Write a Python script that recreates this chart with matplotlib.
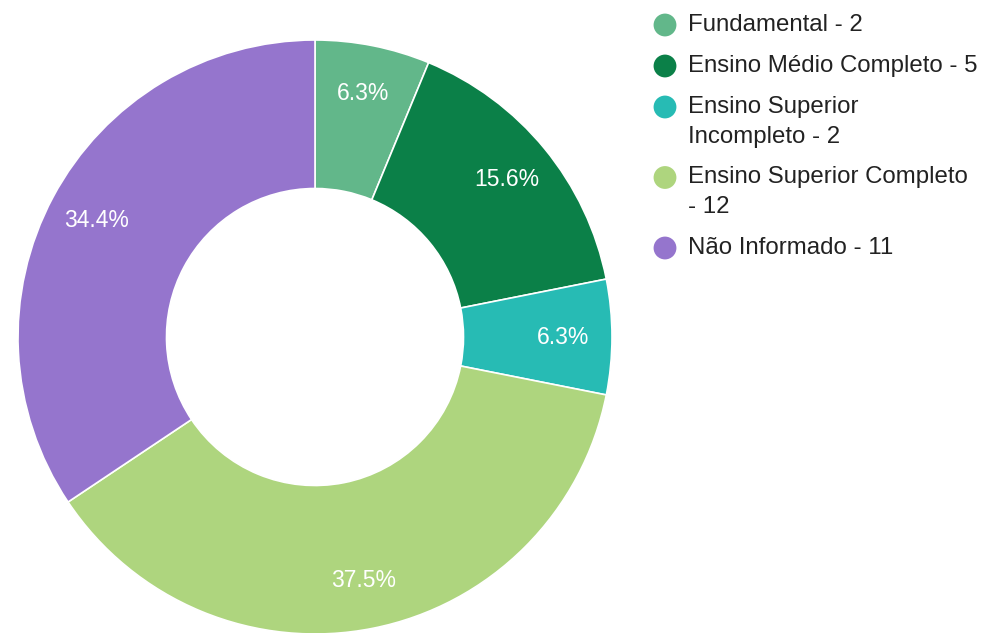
import matplotlib
matplotlib.use("Agg")
import matplotlib.pyplot as plt
from decimal import Decimal, ROUND_HALF_UP

categories = ["Fundamental", "Ensino Médio Completo", "Ensino Superior Incompleto",
              "Ensino Superior Completo", "Não Informado"]
counts = [2, 5, 2, 12, 11]
colors = ["#62b78a", "#0b8048", "#27bbb4", "#aed57e", "#9575cd"]

plt.rcParams['font.family'] = ['Liberation Sans', 'DejaVu Sans']

W, H = 985, 633
fig = plt.figure(figsize=(W / 100, H / 100), dpi=100)
fig.patch.set_facecolor("white")


def fmt_pct(p):
    d = Decimal(str(round(p, 6))).quantize(Decimal("0.1"), rounding=ROUND_HALF_UP)
    return f"{d}%"


# pie axes (pixel-based placement)
cx, cy, R = 315, 337, 297
ax = fig.add_axes([(cx - R) / W, (H - cy - R) / H, 2 * R / W, 2 * R / H])
wedges, texts, autotexts = ax.pie(
    counts, colors=colors, startangle=90, counterclock=False, radius=1,
    autopct=fmt_pct, pctdistance=0.835,
    wedgeprops=dict(width=0.5, edgecolor="white", linewidth=1.2),
    textprops=dict(color="white", fontsize=16.5),
)
ax.set_xlim(-1, 1)
ax.set_ylim(-1, 1)
ax.set_aspect("auto")
ax.axis("off")

# legend (manual, pixel coordinates)
lax = fig.add_axes([0, 0, 1, 1])
lax.set_xlim(0, W)
lax.set_ylim(H, 0)
lax.axis("off")

renderer = fig.canvas.get_renderer()
fs = 17.3
max_w = 293


def text_width(s):
    t = lax.text(0, 0, s, fontsize=fs)
    w = t.get_window_extent(renderer=renderer).width
    t.remove()
    return w


def wrap(s):
    words = s.split(" ")
    lines, cur = [], ""
    for w in words:
        trial = (cur + " " + w).strip()
        if cur and text_width(trial) > max_w:
            lines.append(cur)
            cur = w
        else:
            cur = trial
    lines.append(cur)
    # keep a trailing "-" with the value on the next line
    out = []
    for i, ln in enumerate(lines):
        if ln.endswith(" -") and i + 1 < len(lines):
            out.append(ln[:-2])
            lines[i + 1] = "- " + lines[i + 1]
        else:
            out.append(ln)
    return out


y = 25
line_step = 29.5
entry_step = 41
for cat, n, col in zip(categories, counts, colors):
    lines = wrap(f"{cat} - {n}")
    lax.scatter([665], [y], s=270, color=col, edgecolors="none")
    for k, ln in enumerate(lines):
        lax.text(688, y + k * line_step, ln, fontsize=fs, color="#222222",
                 va="center", ha="left")
    y += (len(lines) - 1) * line_step + entry_step

fig.savefig("out.png", dpi=100, facecolor="white")
